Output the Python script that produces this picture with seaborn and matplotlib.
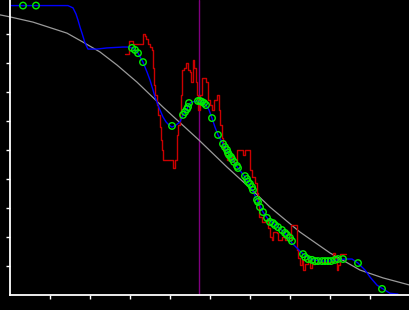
import numpy as np
import pandas as pd
import matplotlib
matplotlib.use("Agg")
import matplotlib.pyplot as plt
import seaborn as sns

# ---- data ----
fit_x = [-2.5, 0, 5.75, 14.25, 18.25, 22.5, 26.75, 31.75, 38.25, 47.25, 54.25,
         60, 65, 72.5, 80, 87.5, 93.25, 100]
fit_y = [96.6, 95.9, 94.1, 90.3, 87.2, 83.8, 79.3, 73.4, 64.8, 53.4, 44.1,
         36.9, 30.3, 21.7, 14.5, 8.6, 5.9, 3.4]

smooth_x = [0, 14.5, 15.75, 16.5, 17, 17.5, 18, 18.75, 19.5, 21.75, 24.25, 28.25,
            29.5, 30.5, 31.25, 32, 33.25, 34.25, 35, 35.75, 36.25, 37, 37.5, 38.25,
            39, 39.75, 40.5, 41.5, 42.5, 43.25, 43.75, 44.25, 44.75, 45.5, 47, 48,
            49, 49.75, 50.5, 51.25, 52, 53.25, 54.5, 55.75, 57, 58.75, 60, 61.75,
            63.25, 64.5, 65.75, 67, 68.75, 70.5, 71.75, 73.25, 75, 77.5, 80, 81.75,
            83.75, 85.5, 87, 88.75, 90, 91.75, 93.25, 95, 97]
smooth_y = [99.8, 99.8, 99.0, 96.9, 94.8, 92.4, 90.3, 86.9, 84.8, 84.8, 85.2, 85.5,
            85.5, 85.2, 84.5, 83.4, 80.3, 76.9, 74.1, 70.7, 68.3, 65.5, 63.8, 61.4,
            59.7, 58.6, 57.9, 58.6, 59.7, 62.1, 63.1, 64.1, 65.9, 66.6, 66.9, 66.6,
            65.5, 63.8, 61.0, 57.9, 55.2, 52.1, 49.0, 46.2, 43.8, 40.7, 37.9, 32.8,
            28.6, 26.2, 24.8, 23.4, 21.4, 17.9, 16.2, 14.1, 12.4, 11.7, 11.7, 12.1,
            12.4, 12.4, 11.0, 8.6, 6.2, 3.4, 2.1, 0.6, 0.3]

raw_x = [28.75, 29.75, 30.75, 33.25, 33.75, 34, 34.5, 35, 35.5, 35.75, 36, 36.25,
         36.75, 37, 37.5, 37.75, 38, 38.25, 40.75, 41.25, 41.75, 42, 42.5, 42.75,
         43, 43.5, 44, 44.5, 45, 45.25, 45.75, 46, 46.5, 46.75, 47, 47.5, 48, 49,
         49.5, 50, 50.5, 51, 51.75, 52.25, 52.5, 53, 53.25, 53.75, 54.25, 55,
         55.75, 56.75, 58.25, 58.75, 60, 60.5, 61.25, 61.75, 62, 62.25, 63, 63.75,
         64.5, 65, 65.5, 65.75, 66.75, 67, 68, 68.75, 70.25, 71.75, 72, 72.5, 73,
         73.25, 73.75, 74.5, 75, 75.5, 76.25, 77.5, 80.75, 81.25, 81.75, 82, 82.5, 84]
raw_y = [83.1, 87.6, 86.6, 90.0, 89.3, 88.3, 86.6, 85.5, 84.5, 78.3, 72.4, 69.0,
         65.5, 62.1, 57.9, 53.4, 50.0, 46.6, 43.8, 46.6, 55.2, 58.6, 63.1, 69.0,
         77.6, 78.3, 80.0, 77.6, 76.9, 73.4, 81.0, 78.3, 73.4, 69.0, 63.8, 69.0,
         74.8, 73.4, 67.2, 65.5, 63.8, 67.2, 69.0, 63.8, 58.6, 54.1, 50.7, 48.3,
         46.6, 47.6, 45.9, 50.0, 48.3, 50.0, 43.1, 40.7, 38.6, 35.2, 31.0, 26.9,
         25.2, 25.9, 23.1, 20.0, 19.0, 21.7, 21.4, 19.0, 20.0, 19.0, 24.1, 15.5,
         12.8, 10.3, 12.1, 8.6, 10.7, 12.1, 9.3, 10.7, 11.0, 11.4, 14.5, 12.8,
         8.6, 10.3, 14.1, 14.1]

obs_x = [3.25, 6.5, 30.5, 31.25, 32, 33.25, 40.5, 43.25, 43.75, 44.25, 44.5, 44.75,
         47, 47.5, 48, 48.5, 49, 50.5, 52, 53.25, 53.75, 54.25, 54.5, 54.75, 55.25,
         55.5, 56, 56.75, 57, 58.75, 59.25, 59.5, 60, 60.5, 60.75, 61.75, 62, 62.5,
         63.25, 64.25, 65, 65.75, 66.25, 67, 68, 68.75, 69.25, 70, 70.5, 73.25,
         73.75, 74.5, 75.5, 76.25, 77, 78, 78.75, 79.5, 80.25, 81.25, 82, 83.25,
         87, 93]
obs_y = [99.8, 99.8, 85.2, 84.5, 83.4, 80.3, 58.3, 62.1, 63.1, 64.1, 64.8, 66.2,
         66.9, 66.9, 66.6, 66.2, 65.5, 61.0, 55.2, 52.1, 51.0, 50.0, 49.0, 48.3,
         47.6, 46.9, 45.9, 44.5, 43.8, 41.0, 40.0, 39.0, 38.3, 37.2, 36.2, 32.8,
         32.1, 30.3, 28.6, 26.6, 25.2, 24.8, 24.1, 23.4, 22.4, 21.4, 20.7, 19.7,
         18.6, 14.1, 13.1, 12.4, 12.1, 11.7, 11.7, 11.7, 11.7, 11.7, 11.7, 12.1,
         12.4, 12.4, 11.0, 2.1]

marker_x = 47.3
x_ticks = [10, 20, 30, 40, 50, 60, 70, 80, 90]
y_ticks = [10, 20, 30, 40, 50, 60, 70, 80, 90]

# ---- figure ----
sns.set_style("dark", {"axes.facecolor": "black", "figure.facecolor": "black"})
fig = plt.figure(figsize=(4.1, 3.1), dpi=100)
fig.patch.set_facecolor("black")
ax = fig.add_axes([10 / 410, 15 / 310, 400 / 410, 295 / 310])
ax.set_facecolor("black")

fit_df = pd.DataFrame({"x": fit_x, "y": fit_y})
smooth_df = pd.DataFrame({"x": smooth_x, "y": smooth_y})
raw_df = pd.DataFrame({"x": raw_x, "y": raw_y})
obs_df = pd.DataFrame({"x": obs_x, "y": obs_y})

ax.axvline(marker_x, color="#800080", lw=1.0, zorder=1)
sns.lineplot(data=fit_df, x="x", y="y", ax=ax, sort=False, estimator=None,
             color="#9a9a9a", lw=0.9, clip_on=False, zorder=2)
sns.lineplot(data=raw_df, x="x", y="y", ax=ax, sort=False, estimator=None,
             color="#cc0000", lw=1.0, drawstyle="steps-post", zorder=3)
sns.lineplot(data=smooth_df, x="x", y="y", ax=ax, sort=False, estimator=None,
             color="#0000ff", lw=1.0, zorder=4)
sns.scatterplot(data=obs_df, x="x", y="y", ax=ax, s=22, facecolors="none",
                edgecolor="#00ee00", linewidth=1.0, zorder=5)

ax.set_xlim(0, 100)
ax.set_ylim(0, 295 / 2.9)
ax.set_xticks(x_ticks)
ax.set_yticks(y_ticks)
ax.set_xticklabels([])
ax.set_yticklabels([])
ax.set_xlabel("")
ax.set_ylabel("")
ax.grid(False)
ax.tick_params(axis="both", direction="out", length=3, width=1.0,
               color="white", bottom=True, left=True)
for side in ["top", "right"]:
    ax.spines[side].set_visible(False)
for side in ["left", "bottom"]:
    ax.spines[side].set_visible(True)
    ax.spines[side].set_color("white")
    ax.spines[side].set_linewidth(1.3)
    ax.spines[side].set_zorder(6)

fig.savefig("out.png", dpi=100, facecolor="black")
